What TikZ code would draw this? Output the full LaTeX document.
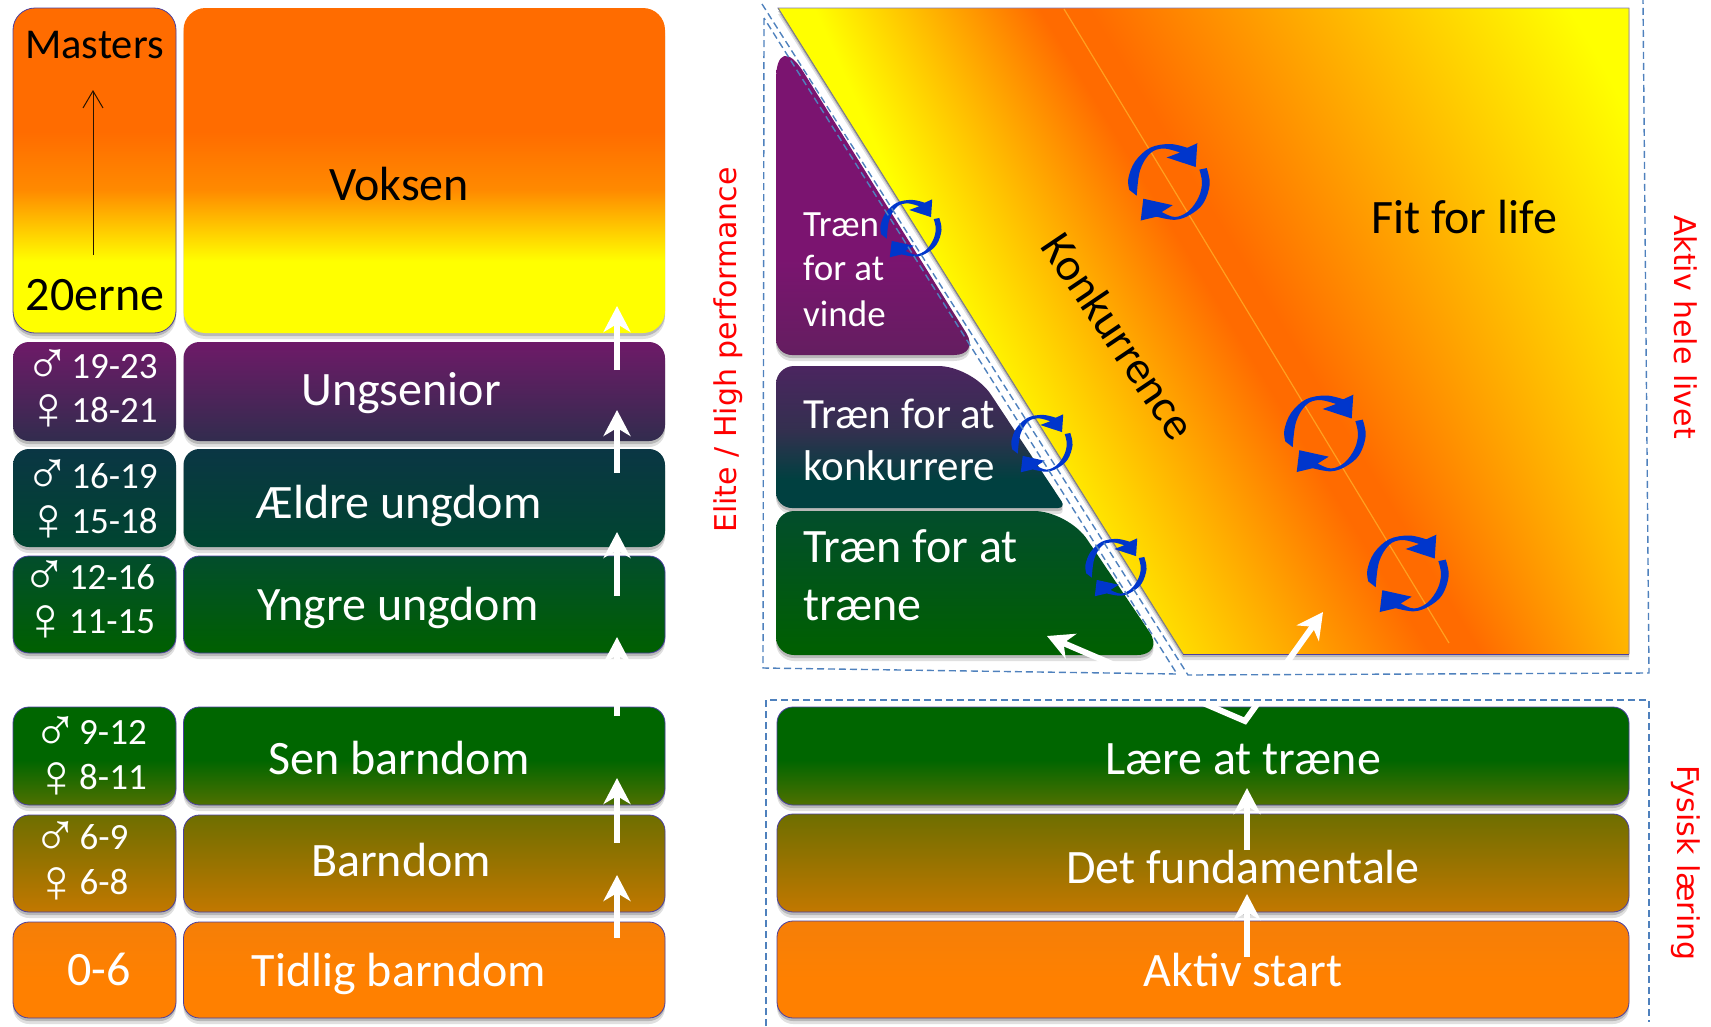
\documentclass[tikz,border=0pt]{standalone}
\usepackage{fontspec}
\setmainfont{Carlito}
\newfontfamily\redfont{DejaVu Sans}
\newfontfamily\sexfont{Liberation Sans}
\usetikzlibrary{arrows.meta,shadows}
\definecolor{orA}{HTML}{FF6C00}
\definecolor{orB}{HTML}{FF8A00}
\definecolor{yeA}{HTML}{FFFF00}
\definecolor{purT}{HTML}{6E1A68}
\definecolor{purB}{HTML}{322C4E}
\definecolor{teaT}{HTML}{0A3644}
\definecolor{teaB}{HTML}{004530}
\definecolor{yngT}{HTML}{024D2C}
\definecolor{yngB}{HTML}{006000}
\definecolor{senT}{HTML}{006600}
\definecolor{senB}{HTML}{4F7000}
\definecolor{barT}{HTML}{6E6E00}
\definecolor{barB}{HTML}{C27800}
\definecolor{tidT}{HTML}{F57F08}
\definecolor{tidB}{HTML}{FF8000}
\definecolor{vinT}{HTML}{7B1470}
\definecolor{vinB}{HTML}{641E60}
\definecolor{konT}{HTML}{4B2560}
\definecolor{konM}{HTML}{33304F}
\definecolor{konB}{HTML}{004040}
\definecolor{edgeC}{HTML}{4A3FA0}
\definecolor{dashC}{HTML}{4F81BD}
\definecolor{cycC}{HTML}{0036CC}
\definecolor{lineC}{HTML}{FFA020}
\pgfdeclareverticalshading{voksenS}{100bp}{color(0bp)=(yeA); color(36bp)=(yeA); color(47bp)=(orB); color(56bp)=(orA); color(100bp)=(orA)}
\pgfdeclareverticalshading{ungS}{100bp}{color(0bp)=(purB); color(25bp)=(purB); color(75bp)=(purT); color(100bp)=(purT)}
\pgfdeclareverticalshading{aeldS}{100bp}{color(0bp)=(teaB); color(25bp)=(teaB); color(75bp)=(teaT); color(100bp)=(teaT)}
\pgfdeclareverticalshading{yngS}{100bp}{color(0bp)=(yngB); color(25bp)=(yngB); color(75bp)=(yngT); color(100bp)=(yngT)}
\pgfdeclareverticalshading{senS}{100bp}{color(0bp)=(senB); color(25bp)=(senB); color(48bp)=(senT); color(100bp)=(senT)}
\pgfdeclareverticalshading{barS}{100bp}{color(0bp)=(barB); color(25bp)=(barB); color(75bp)=(barT); color(100bp)=(barT)}
\pgfdeclareverticalshading{tidS}{100bp}{color(0bp)=(tidB); color(45bp)=(tidB); color(75bp)=(tidT); color(100bp)=(tidT)}
\pgfdeclareverticalshading{vinS}{100bp}{color(0bp)=(vinB); color(25bp)=(vinB); color(40bp)=(vinT); color(100bp)=(vinT)}
\pgfdeclareverticalshading{konS}{100bp}{color(0bp)=(konB); color(35bp)=(konB); color(52bp)=(konM); color(75bp)=(konT); color(100bp)=(konT)}
\pgfdeclarefunctionalshading{fitS}{\pgfpoint{-50bp}{-50bp}}{\pgfpoint{50bp}{50bp}}{}{
  25 add 12.92 mul 654 exch sub
  exch 25 add 17.02 mul 778 add
  exch dup 8 sub 0.6072 mul 1064 add
  3 -1 roll exch sub
  dup 0 lt
  { neg 25 sub exch 8 sub 0.16 mul 225 add div }
  { 25 sub exch 8 sub dup mul 0.000431 mul 480 exch sub div }
  ifelse
  dup 0 lt { pop 0 } if
  dup 1 gt { pop 1 } if
  0.58 mul 0.42 add
  1 exch 0
}
\tikzset{
  softshadow/.style={drop shadow={shadow xshift=0pt,shadow yshift=-6pt,opacity=.12,fill=black},
                     drop shadow={shadow xshift=0pt,shadow yshift=-3pt,opacity=.18,fill=black}},
  rowbox/.style={rectangle,rounded corners=16pt,draw=edgeC,line width=.8pt,inner sep=0pt,outer sep=0pt,softshadow},
  lbl/.style={anchor=base,inner sep=0pt,font=\fontsize{48}{52}\selectfont},
  lblw/.style={lbl,text=white},
  agetxt/.style={anchor=base,inner sep=0pt,text=white,font=\fontsize{37}{40}\selectfont},
  sex/.style={anchor=center,inner sep=0pt,text=white,font=\sexfont\fontsize{62}{66}\selectfont},
  stairtxt/.style={anchor=base west,inner sep=0pt,text=white},
  redlbl/.style={anchor=center,inner sep=0pt,text=red,font=\redfont\fontsize{30}{34}\selectfont},
  whitearrow/.style={white,line width=6pt,-{Stealth[length=26pt,width=27pt,inset=8pt]}},
  dashedline/.style={draw=dashC,line width=1.4pt,dash pattern=on 7pt off 4pt},
  cyc/.pic={
    \fill[cycC] (-39.7,8.4) -- plot[smooth,tension=.6] coordinates {(-39.7,8.4) (-40.7,-3) (-34,-20) (-19,-33.7) (1,-37.5) (18.3,-33.7)}
      -- (28.3,-38.3) -- (26.7,-14.5) -- (-2.3,-24) -- (11,-29)
      -- plot[smooth,tension=.6] coordinates {(11,-29) (-5.7,-33) (-19,-28) (-29,-11) (-32.3,14.2)} -- cycle;
    \fill[cycC] (30.3,-11.9) -- (37.7,-13.4)
      -- plot[smooth,tension=.6] coordinates {(37.7,-13.4) (40.7,2.7) (34.3,21.8) (21,33.3) (6,38.3) (-12.3,35.2)}
      -- (-28.3,39) -- (-25.7,17.2) -- (3.7,23.7) -- (-7.3,30.5)
      -- plot[smooth,tension=.6] coordinates {(-7.3,30.5) (6,35.5) (19.7,29.5) (29.7,15.5) (33,1) (30.3,-11.9)} -- cycle;
  }
}
\begin{document}
\begin{tikzpicture}[x=1pt,y=-1pt]
\useasboundingbox (0,0) rectangle (1711,1026);
% left column
\node[rowbox,rounded corners=22pt,shade,shading=voksenS,minimum width=163pt,minimum height=325pt] (mast) at (94.5,170.5) {};
\node[rowbox,rounded corners=22pt,draw=none,shade,shading=voksenS,minimum width=481.5pt,minimum height=325pt] (voks) at (424.25,170.5) {};
\node[rowbox,draw=none,shade,shading=ungS,minimum width=163pt,minimum height=99pt] (b1) at (94.5,391.5) {};
\node[rowbox,draw=none,shade,shading=ungS,minimum width=481.5pt,minimum height=99pt] (r1) at (424.25,391.5) {};
\node[rowbox,draw=none,shade,shading=aeldS,minimum width=163pt,minimum height=98pt] (b2) at (94.5,498) {};
\node[rowbox,draw=none,shade,shading=aeldS,minimum width=481.5pt,minimum height=98pt] (r2) at (424.25,498) {};
\node[rowbox,shade,shading=yngS,minimum width=163pt,minimum height=97pt] (b3) at (94.5,604.5) {};
\node[rowbox,shade,shading=yngS,minimum width=481.5pt,minimum height=97pt] (r3) at (424.25,604.5) {};
\node[rowbox,shade,shading=senS,minimum width=163pt,minimum height=98pt] (b4) at (94.5,756) {};
\node[rowbox,shade,shading=senS,minimum width=481.5pt,minimum height=98pt] (r4) at (424.25,756) {};
\node[rowbox,shade,shading=barS,minimum width=163pt,minimum height=97pt] (b5) at (94.5,863.5) {};
\node[rowbox,shade,shading=barS,minimum width=481.5pt,minimum height=97pt] (r5) at (424.25,863.5) {};
\node[rowbox,shade,shading=tidS,minimum width=163pt,minimum height=96pt] (b6) at (94.5,970) {};
\node[rowbox,shade,shading=tidS,minimum width=481.5pt,minimum height=96pt] (r6) at (424.25,970) {};
% left texts
\node[lbl,font=\fontsize{42.5}{46}\selectfont] (tmast) at (94.5,58) {Masters};
\node[lbl] (t20) at (95,310) {20erne};
\coordinate (mA) at (93,255);
\coordinate (mB) at (93,90);
\draw[black!85!orange,line width=1pt,-{Straight Barb[length=17pt,width=20pt]}] (mA) -- (mB);
\node[lbl] (tvoks) at (399,200) {Voksen};
\node[lblw] (t1) at (401,405) {Ungsenior};
\node[lblw] (t2) at (399,518) {Ældre ungdom};
\node[lblw] (t3) at (398,620) {Yngre ungdom};
\node[lblw] (t4) at (399,774) {Sen barndom};
\node[lblw] (t5) at (401,876) {Barndom};
\node[lblw] (t6) at (399,986) {Tidlig barndom};
\node[agetxt] (a1) at (114.5,378) {19-23};
\node[agetxt] (a2) at (114.5,422) {18-21};
\node[agetxt] (a3) at (114.5,488) {16-19};
\node[agetxt] (a4) at (114.5,533) {15-18};
\node[agetxt] (a5) at (112,589) {12-16};
\node[agetxt] (a6) at (112,633) {11-15};
\node[agetxt] (a7) at (113,744) {9-12};
\node[agetxt] (a8) at (113,789) {8-11};
\node[agetxt] (a9) at (104,849) {6-9};
\node[agetxt] (a10) at (104,894) {6-8};
\node[lblw] (a11) at (99,985) {0-6};
\node[sex] (s1) at (48,367) {♂};
\node[sex] (s2) at (49,412) {♀};
\node[sex] (s3) at (48,477) {♂};
\node[sex] (s4) at (49,523) {♀};
\node[sex] (s5) at (45,578) {♂};
\node[sex] (s6) at (46,623) {♀};
\node[sex] (s7) at (56,734) {♂};
\node[sex] (s8) at (57,780) {♀};
\node[sex] (s9) at (56,839) {♂};
\node[sex] (s10) at (57,885) {♀};
% big parallelogram
\path[fill=orA,softshadow] (778,8) -- (1629,8) -- (1629,654) -- (1183,654) -- cycle;
\begin{scope}
  \clip (778,8) -- (1629,8) -- (1629,654) -- (1183,654) -- cycle;
  \path[shade,shading=fitS] (778,8) rectangle (1629,654);
\end{scope}
\draw[edgeC!70,line width=.8pt] (1183,654) -- (778,8) -- (1629,8) -- (1629,654);
\draw[edgeC,line width=1pt] (1183,654) -- (1629,654);
\draw[gray,line width=.8pt] (778,8) -- (1183,654);
\coordinate (lnA) at (1064,9);
\coordinate (lnB) at (1449,643);
\draw[lineC,line width=1.2pt] (lnA) -- (lnB);
% stair shapes
\path[shade,shading=vinS,softshadow] (776,200) [rounded corners=52pt] -- (776,28) [rounded corners=26pt] -- (980,355) [rounded corners=16pt] -- (776,355) -- cycle;
\path[shade,shading=konS,softshadow] (776,440) [rounded corners=18pt] -- (776,366) [rounded corners=34pt] -- (972,366) [rounded corners=8pt] -- (1066,508) [rounded corners=16pt] -- (776,508) -- cycle;
\path[shade,shading=yngS,softshadow] (776,580) [rounded corners=18pt] -- (776,511) [rounded corners=34pt] -- (1068,511) [rounded corners=28pt] -- (1165,655) [rounded corners=18pt] -- (776,655) -- cycle;
% texts on stairs
\node[stairtxt,font=\fontsize{37}{40}\selectfont] (v1) at (803,236) {Træn};
\node[stairtxt,font=\fontsize{37}{40}\selectfont] (v2) at (803,280) {for at};
\node[stairtxt,font=\fontsize{37}{40}\selectfont] (v3) at (803,326) {vinde};
\node[stairtxt,font=\fontsize{43}{46}\selectfont] (k1) at (803,428) {Træn for at};
\node[stairtxt,font=\fontsize{43}{46}\selectfont] (k2) at (803,480) {konkurrere};
\node[stairtxt,font=\fontsize{48}{52}\selectfont] (n1) at (803,562) {Træn for at};
\node[stairtxt,font=\fontsize{48}{52}\selectfont] (n2) at (803,620) {træne};
\node[lbl] (fit) at (1464,233) {Fit for life};
\node[anchor=center,inner sep=0pt,rotate=-56,font=\fontsize{46}{50}\selectfont] (konk) at (1119,336) {Konkurrence};
% cycle icons
\pic at (1169,181.5) {cyc};
\pic at (1325,433) {cyc};
\pic at (1408,573) {cyc};
\pic[scale=.75] at (911,228) {cyc};
\pic[scale=.75] at (1042,443) {cyc};
\pic[scale=.75] at (1116,567) {cyc};
% lower right rows
\node[rowbox,shade,shading=senS,minimum width=852pt,minimum height=98pt] (l1) at (1203,756) {};
\node[rowbox,shade,shading=barS,minimum width=852pt,minimum height=98pt] (l2) at (1203,863) {};
\node[rowbox,shade,shading=tidS,minimum width=852pt,minimum height=97pt] (l3) at (1203,969.5) {};
\node[lblw] (lt1) at (1243,774) {Lære at træne};
\node[lblw] (lt2) at (1243,883) {Det fundamentale};
\node[lblw] (lt3) at (1243,986) {Aktiv start};
% white arrows
\foreach \i/\tip/\tail in {1/306/370,2/410/473,3/532/596,4/637/716,5/778/843,6/875/938}{
  \coordinate (w\i a) at (617,\tail);
  \coordinate (w\i b) at (617,\tip);
  \draw[whitearrow] (w\i a) -- (w\i b);
}
\coordinate (x1a) at (1247,850);
\coordinate (x1b) at (1247,788);
\coordinate (x2a) at (1247,957);
\coordinate (x2b) at (1247,894);
\draw[whitearrow] (x1a) -- (x1b);
\draw[whitearrow] (x2a) -- (x2b);
\coordinate (vL) at (1047,636);
\coordinate (vA) at (1245,721);
\coordinate (vR) at (1323,612);
\draw[whitearrow,{Stealth[length=26pt,width=27pt,inset=8pt]}-{Stealth[length=26pt,width=27pt,inset=8pt]},line join=miter] (vL) -- (vA) -- (vR);
% dashed frames
\coordinate (d1) at (764,18);
\coordinate (d2) at (763,668);
\coordinate (d3) at (1177,674);
\coordinate (d4) at (762,4);
\coordinate (d5) at (1188,675);
\coordinate (d6) at (1649,673);
\coordinate (d7) at (1643,0);
\draw[dashedline] (d1) -- (d2) -- (d3) -- cycle;
\draw[dashedline] (d4) -- (d5) -- (d6) -- (d7);
\coordinate (e1) at (766,1026);
\coordinate (e2) at (766,700);
\coordinate (e3) at (1649,700);
\coordinate (e4) at (1649,1022);
\draw[dashedline] (e1) -- (e2) -- (e3) -- (e4);
% red labels
\node[redlbl,rotate=90] (rA) at (728,350) {Elite / High performance};
\node[redlbl,rotate=-90] (rB) at (1686,327) {Aktiv hele livet};
\node[redlbl,rotate=-90] (rC) at (1686,863) {Fysisk læring};
\end{tikzpicture}
\end{document}
